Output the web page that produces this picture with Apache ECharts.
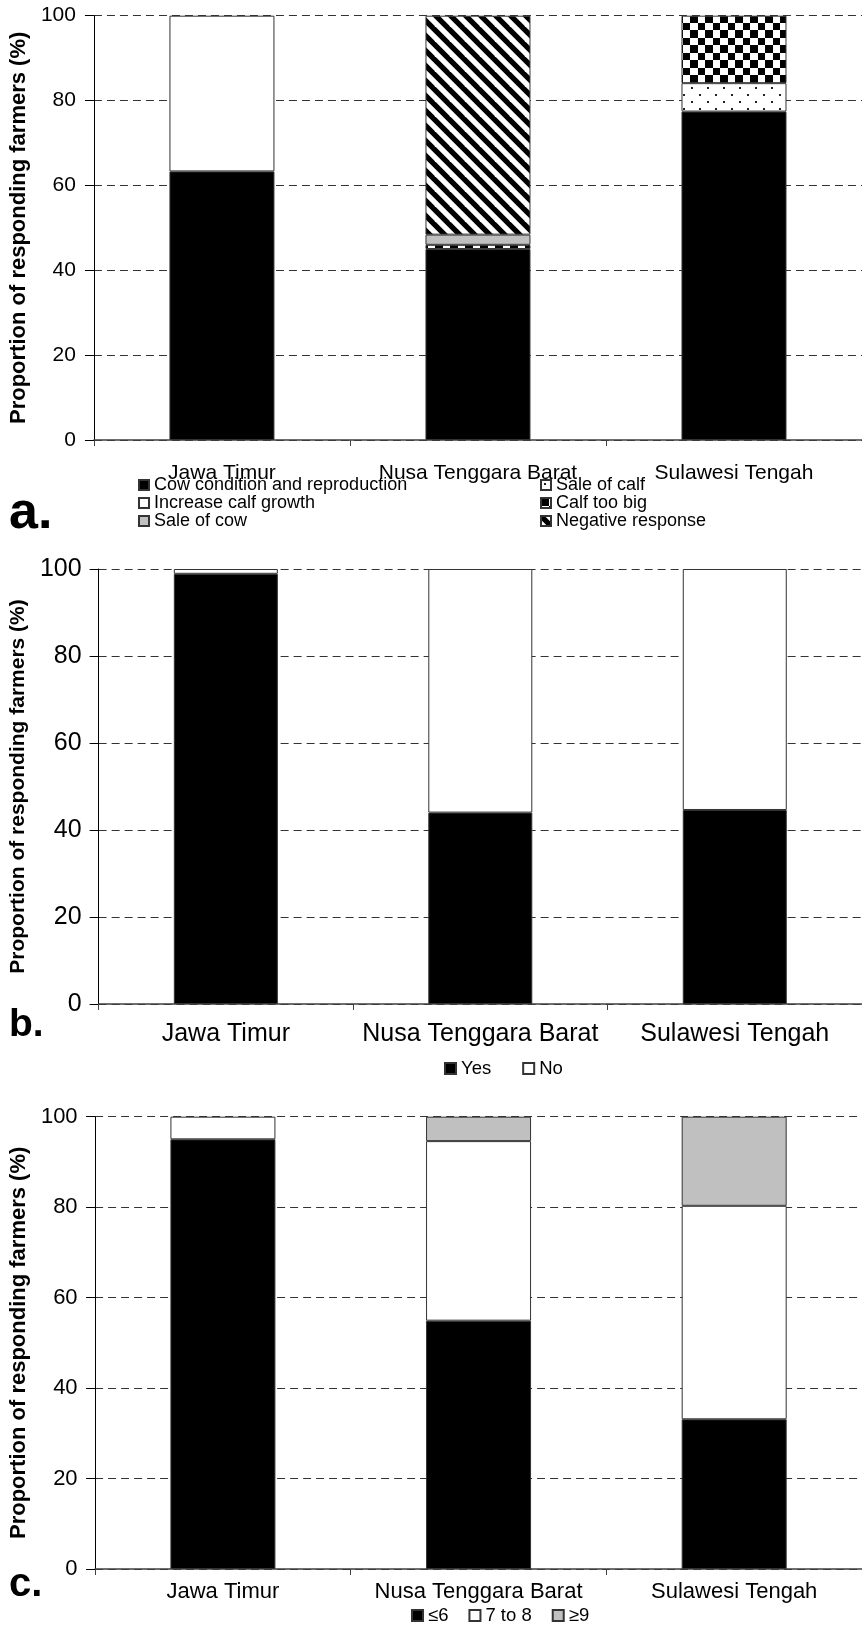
<!DOCTYPE html>
<html>
<head>
<meta charset="utf-8">
<script src="https://cdn.jsdelivr.net/npm/echarts@6/dist/echarts.min.js"></script>
<style>
html,body{margin:0;padding:0;background:#fff;}
#chart{width:862px;height:1625px;}
</style>
</head>
<body>
<div id="chart"></div>
<script>
// ---------- data ----------
const categories = ['Jawa Timur', 'Nusa Tenggara Barat', 'Sulawesi Tengah'];
const yTicks = [0, 20, 40, 60, 80, 100];
const yTitle = 'Proportion of responding farmers (%)';

// panel a (stack order bottom -> top)
const aNames = ['Cow condition and reproduction', 'Sale of calf', 'Increase calf growth', 'Calf too big', 'Sale of cow', 'Negative response'];
const aCowCondition = [63.3, 45.0, 77.4];
const aSaleOfCalf = [0, 0, 6.7];
const aIncreaseGrowth = [36.7, 0, 0];
const aCalfTooBig = [0, 1.0, 15.9];
const aSaleOfCow = [0, 2.4, 0];
const aNegative = [0, 51.6, 0];

// panel b
const bNames = ['Yes', 'No'];
const bYes = [98.9, 44.0, 44.6];
const bNo = [1.1, 56.0, 55.4];

// panel c
const cNames = ['≤6', '7 to 8', '≥9'];
const cLow = [95.0, 54.9, 33.1];
const cMid = [5.0, 39.7, 47.2];
const cHigh = [0, 5.4, 19.7];

// ---------- patterns ----------
function tile(w, h, draw) {
  const c = document.createElement('canvas');
  c.width = w; c.height = h;
  const g = c.getContext('2d');
  g.fillStyle = '#fff'; g.fillRect(0, 0, w, h);
  draw(g);
  return { image: c, repeat: 'repeat' };
}
const patDiag = tile(15, 15, g => {
  g.strokeStyle = '#000'; g.lineWidth = 5.3;
  for (let k = -1; k <= 1; k++) {
    g.beginPath(); g.moveTo(k * 15 - 2, -2); g.lineTo(k * 15 + 17, 17); g.stroke();
  }
});
const patChecker = tile(15, 15, g => {
  g.fillStyle = '#000'; g.fillRect(0, 0, 8, 8); g.fillRect(8, 8, 7, 7);
});
const patDots = tile(16, 14, g => {
  g.fillStyle = '#222'; g.fillRect(3, 3, 2, 2); g.fillRect(11, 10, 2, 2);
});

const FONT = "'Liberation Sans', Arial, sans-serif";
const bStyle = (fill) => ({ color: fill, borderColor: '#333', borderWidth: 1 });

const aStyles = [bStyle('#000'), bStyle(patDots), bStyle('#fff'), bStyle(patChecker), bStyle('#c0c0c0'), bStyle(patDiag)];
const aData = [aCowCondition, aSaleOfCalf, aIncreaseGrowth, aCalfTooBig, aSaleOfCow, aNegative];
const bStyles = [bStyle('#000'), bStyle('#fff')];
const bData = [bYes, bNo];
const cStyles = [bStyle('#000'), bStyle('#fff'), bStyle('#c0c0c0')];
const cData = [cLow, cMid, cHigh];

const nz = arr => arr.map(v => (v === 0 ? '-' : v));

function makeSeries(names, data, styles, idx, bw) {
  return names.map((n, i) => ({
    name: n, type: 'bar', stack: 'p' + idx, xAxisIndex: idx, yAxisIndex: idx,
    barWidth: bw, data: nz(data[i]), itemStyle: styles[i], silent: true,
    emphasis: { disabled: true }
  }));
}

const grids = [
  { left: 90, top: 15.7, width: 781, height: 424.3 },
  { left: 90, top: 569, width: 784, height: 435 },
  { left: 87.5, top: 1116.7, width: 785, height: 452.3 }
];
const catFont = [21, 25, 22];
const tickFont = [21, 25, 22];
const titleFont = [22, 21, 22];
const labelMargin = [23, 18, 12];
const tickMargin = [18, 17, 17.5];

const xAxes = grids.map((g, i) => ({
  type: 'category', gridIndex: i, data: categories,
  axisLine: { lineStyle: { color: '#404040', width: 1.5 } },
  axisTick: { show: true, interval: 0, length: 6, lineStyle: { color: '#404040' } },
  axisLabel: { interval: 0, fontFamily: FONT, fontSize: catFont[i], color: '#000', margin: labelMargin[i] }
}));
const yAxes = grids.map((g, i) => ({
  type: 'value', gridIndex: i, min: 0, max: 100, interval: 20,
  name: yTitle, nameLocation: 'middle', nameRotate: 90, nameGap: 55,
  nameTextStyle: { fontFamily: FONT, fontWeight: 'bold', fontSize: titleFont[i], color: '#000' },
  axisLine: { show: true, lineStyle: { color: '#000', width: 1 } },
  axisTick: { show: true, length: 9, inside: false, lineStyle: { color: '#000' } },
  axisLabel: { fontFamily: FONT, fontSize: tickFont[i], color: '#000', margin: tickMargin[i],
    formatter: v => (yTicks.indexOf(v) >= 0 ? String(v) : '') },
  splitLine: { show: true, lineStyle: { color: '#333', width: 1, type: [8, 5] } }
}));

const legCommon = { icon: 'rect', itemWidth: 10, itemHeight: 10, padding: 0, selectedMode: false };
const legendA = { fontFamily: FONT, fontSize: 18, color: '#000', lineHeight: 17 };
const legendBC = { fontFamily: FONT, fontSize: 18.5, color: '#000', lineHeight: 18 };
const legends = [
  Object.assign({ data: [aNames[0], aNames[2], aNames[4]], orient: 'vertical', left: 138, top: 476, itemGap: 0, textStyle: legendA }, legCommon),
  Object.assign({ data: [aNames[1], aNames[3], aNames[5]], orient: 'vertical', left: 540, top: 476, itemGap: 0, textStyle: legendA }, legCommon),
  Object.assign({ data: bNames, orient: 'horizontal', left: 444, top: 1059, itemGap: 31, textStyle: legendBC }, legCommon, { itemWidth: 11, itemHeight: 11 }),
  Object.assign({ data: cNames, orient: 'horizontal', left: 411, top: 1606, itemGap: 20, textStyle: legendBC }, legCommon, { itemWidth: 11, itemHeight: 11 })
];

const panelLabel = (txt, x, y, size) => ({
  type: 'text', left: x, top: y,
  style: { text: txt, fontFamily: FONT, fontWeight: 'bold', fontSize: size, fill: '#000' }
});

const chart = echarts.init(document.getElementById('chart'), null, { renderer: 'canvas' });
chart.setOption({
  animation: false,
  backgroundColor: '#fff',
  grid: grids,
  xAxis: xAxes,
  yAxis: yAxes,
  legend: legends,
  graphic: [
    panelLabel('a.', 9, 488, 52),
    panelLabel('b.', 9, 1006, 39),
    panelLabel('c.', 9, 1565, 40)
  ],
  series: [].concat(
    makeSeries(aNames, aData, aStyles, 0, 105),
    makeSeries(bNames, bData, bStyles, 1, 104),
    makeSeries(cNames, cData, cStyles, 2, 105)
  )
});
</script>
</body>
</html>
